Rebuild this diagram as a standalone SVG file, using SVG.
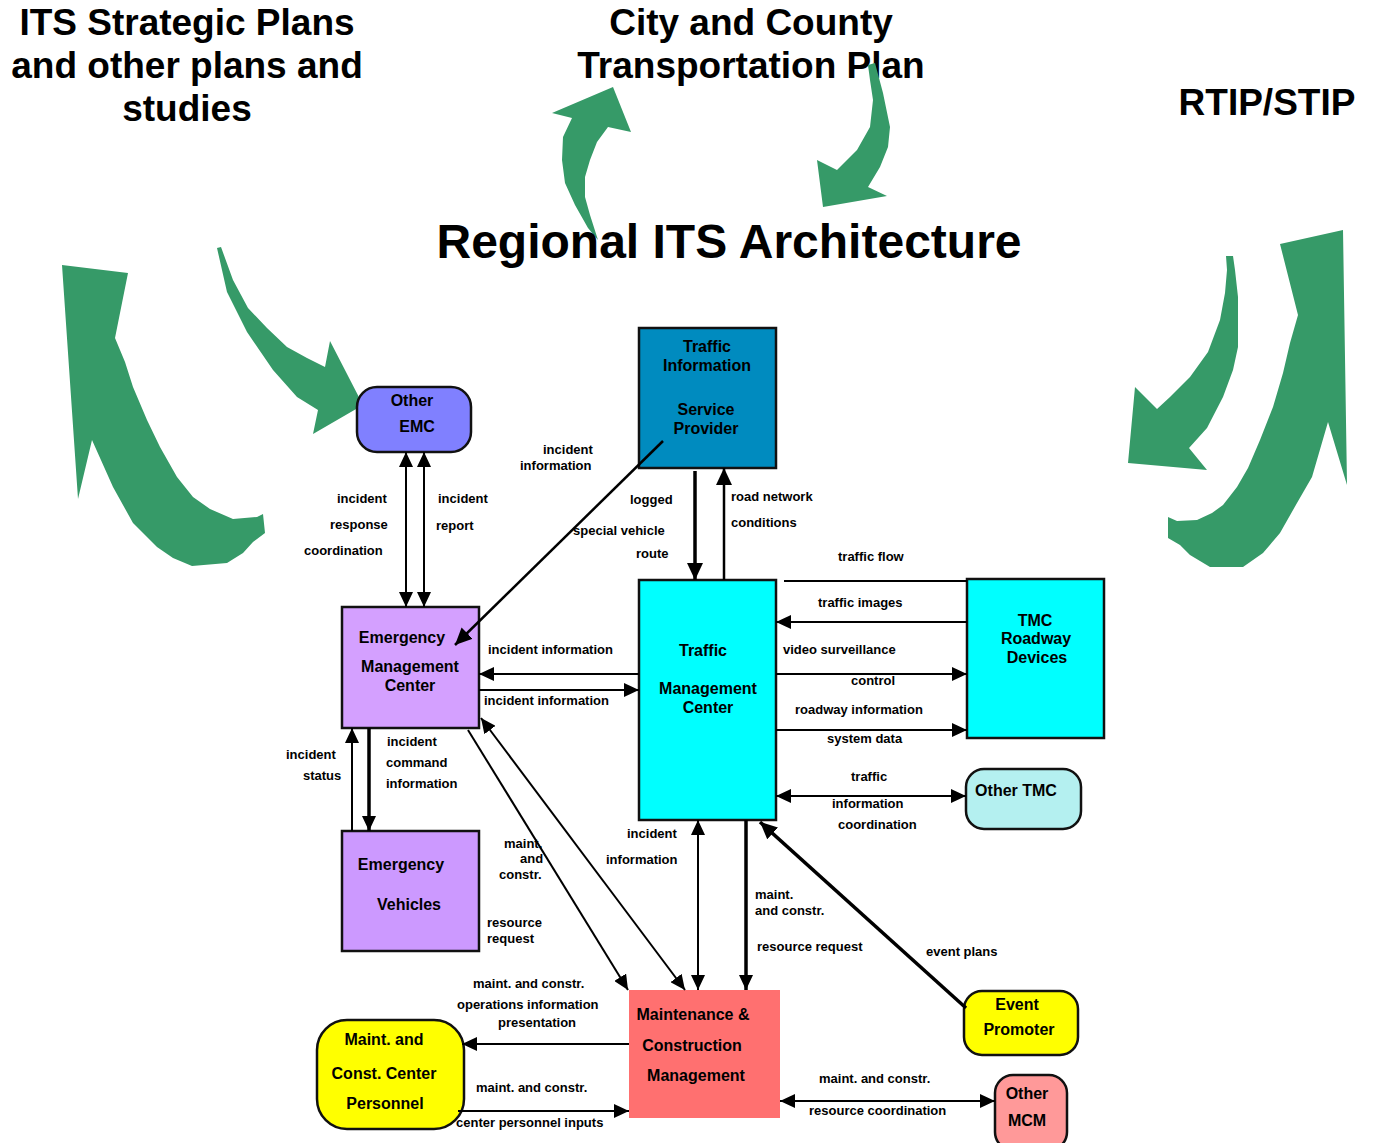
<svg xmlns="http://www.w3.org/2000/svg" width="1373" height="1143" viewBox="0 0 1373 1143">
<style>
text{font-family:"Liberation Sans",Arial,sans-serif;font-weight:bold;fill:#000}
.t{font-size:37px}
.big{font-size:48px}
.n{font-size:16px;text-anchor:middle}
.l{font-size:13px}
.box{stroke:#111;stroke-width:2.5}
.c{stroke:#000;stroke-width:2;fill:none}
.k{stroke:#000;stroke-width:3.5;fill:none}
.g{fill:#369a68}
</style>
<defs>
<marker id="a" markerUnits="userSpaceOnUse" markerWidth="15" markerHeight="14" refX="15" refY="7" orient="auto-start-reverse"><path d="M0,0 L15,7 L0,14 z" fill="#000"/></marker>
<marker id="b" markerUnits="userSpaceOnUse" markerWidth="17" markerHeight="16" refX="17" refY="8" orient="auto-start-reverse"><path d="M0,0 L17,8 L0,16 z" fill="#000"/></marker>
</defs>
<g id="titles">
<text class="t" x="187" y="35" text-anchor="middle">ITS Strategic Plans</text>
<text class="t" x="187" y="78" text-anchor="middle">and other plans and</text>
<text class="t" x="187" y="121" text-anchor="middle">studies</text>
<text class="t" x="751" y="35" text-anchor="middle">City and County</text>
<text class="t" x="751" y="78" text-anchor="middle">Transportation Plan</text>
<text class="t" x="1267" y="115" text-anchor="middle">RTIP/STIP</text>
</g>
<g id="green-arrows">
<polygon class="g" points="62,265 128,273 115,338 125,362 133,387 147,420 160,447 177,477 193,497 210,509 233,519 257,517 263,514 265,533 253,542 243,553 227,563 192,566 173,558 157,547 133,523 113,487 92,440 78,499"/>
<polygon class="g" points="217,248 221,247 233,280 248,308 267,328 287,347 307,358 325,367 330,341 363,405 313,434 318,410 297,397 273,370 247,332 227,292"/>
<polygon class="g" points="613,87 631,132 608,127 597,142 590,160 585,177 585,197 590,215 598,240 588,228 575,205 565,183 562,160 563,137 572,118 552,113"/>
<polygon class="g" points="868,65 875,63 883,93 890,127 888,147 880,167 868,187 887,196 823,207 817,160 837,170 857,150 870,127 873,100 870,80"/>
<polygon class="g" points="1226,256 1233,256 1235,270 1238,297 1238,347 1233,370 1223,397 1207,428 1189,448 1207,470 1128,463 1135,387 1157,409 1170,397 1190,377 1208,352 1220,320 1225,293 1227,270"/>
<polygon class="g" points="1343,230 1347,485 1328,422 1312,477 1297,503 1280,533 1263,553 1243,567 1210,567 1190,555 1180,545 1168,538 1168,517 1177,521 1197,520 1212,513 1223,505 1237,487 1248,468 1260,440 1273,407 1283,373 1290,343 1298,315 1280,244"/>
</g>
<text class="big" x="729" y="258" text-anchor="middle">Regional ITS Architecture</text>
<g id="n-other-emc"><rect class="box" x="357" y="387" width="114" height="65" rx="20" fill="#8080ff"/><text class="n" x="412" y="406">Other</text><text class="n" x="417" y="432">EMC</text></g>
<g id="n-tisp"><rect class="box" x="639" y="328" width="137" height="140" fill="#008bbf"/><text class="n" x="707" y="352">Traffic</text><text class="n" x="707" y="371">Information</text><text class="n" x="706" y="415">Service</text><text class="n" x="706" y="434">Provider</text></g>
<g id="n-emc"><rect class="box" x="342" y="607" width="137" height="121" fill="#d4a0ff"/><text class="n" x="402" y="643">Emergency</text><text class="n" x="410" y="672">Management</text><text class="n" x="410" y="691">Center</text></g>
<g id="n-tmc"><rect class="box" x="639" y="580" width="137" height="240" fill="#00ffff"/><text class="n" x="703" y="656">Traffic</text><text class="n" x="708" y="694">Management</text><text class="n" x="708" y="713">Center</text></g>
<g id="n-tmc-rd"><rect class="box" x="967" y="579" width="137" height="159" fill="#00ffff"/><text class="n" x="1035" y="626">TMC</text><text class="n" x="1036" y="644">Roadway</text><text class="n" x="1037" y="663">Devices</text></g>
<g id="n-other-tmc"><rect class="box" x="966" y="769" width="115" height="60" rx="18" fill="#b4f0f0"/><text class="n" x="1016" y="796">Other TMC</text></g>
<g id="n-ev"><rect class="box" x="342" y="831" width="137" height="120" fill="#cc99ff"/><text class="n" x="401" y="870">Emergency</text><text class="n" x="409" y="910">Vehicles</text></g>
<g id="n-mcm"><rect x="629" y="990" width="151" height="128" fill="#ff7070"/><text class="n" x="693" y="1020">Maintenance &amp;</text><text class="n" x="692" y="1051">Construction</text><text class="n" x="696" y="1081">Management</text></g>
<g id="n-personnel"><rect class="box" x="317" y="1020" width="147" height="109" rx="30" fill="#ffff00"/><text class="n" x="384" y="1045">Maint. and</text><text class="n" x="384" y="1079">Const. Center</text><text class="n" x="385" y="1109">Personnel</text></g>
<g id="n-event"><rect class="box" x="964" y="991" width="114" height="64" rx="18" fill="#ffff00"/><text class="n" x="1017" y="1010">Event</text><text class="n" x="1019" y="1035">Promoter</text></g>
<g id="n-other-mcm"><rect class="box" x="995" y="1075" width="72" height="75" rx="18" fill="#ff9999"/><text class="n" x="1027" y="1099">Other</text><text class="n" x="1027" y="1126">MCM</text></g>
<g id="connectors">
<line class="c" x1="406" y1="452" x2="406" y2="607" marker-start="url(#a)" marker-end="url(#a)"/>
<line class="c" x1="424" y1="452" x2="424" y2="607" marker-start="url(#a)" marker-end="url(#a)"/>
<line class="k" style="stroke-width:2.5" x1="663" y1="441" x2="455" y2="645" marker-end="url(#b)"/>
<line class="k" x1="695" y1="471" x2="695" y2="580" marker-end="url(#b)"/>
<line class="c" style="stroke-width:2.5" x1="724" y1="580" x2="724" y2="468" marker-end="url(#b)"/>
<line class="c" x1="967" y1="581" x2="784" y2="581"/>
<line class="c" x1="967" y1="622" x2="776" y2="622" marker-end="url(#a)"/>
<line class="c" x1="776" y1="674" x2="967" y2="674" marker-end="url(#a)"/>
<line class="c" x1="776" y1="730" x2="967" y2="730" marker-end="url(#a)"/>
<line class="c" x1="776" y1="796" x2="966" y2="796" marker-start="url(#a)" marker-end="url(#a)"/>
<line class="c" x1="639" y1="674" x2="479" y2="674" marker-end="url(#a)"/>
<line class="c" x1="479" y1="690" x2="639" y2="690" marker-end="url(#a)"/>
<line class="c" x1="352" y1="831" x2="352" y2="728" marker-end="url(#a)"/>
<line class="k" x1="369" y1="728" x2="369" y2="831" marker-end="url(#a)"/>
<line class="c" x1="468" y1="730" x2="628" y2="990" marker-end="url(#a)"/>
<line class="c" x1="685" y1="990" x2="481" y2="718" marker-start="url(#a)" marker-end="url(#a)"/>
<line class="c" x1="698" y1="820" x2="698" y2="990" marker-start="url(#a)" marker-end="url(#a)"/>
<line class="k" x1="746" y1="820" x2="746" y2="990" marker-end="url(#a)"/>
<line class="k" x1="966" y1="1008" x2="760" y2="822" marker-end="url(#b)"/>
<line class="c" x1="629" y1="1044" x2="462" y2="1044" marker-end="url(#a)"/>
<line class="c" x1="458" y1="1111" x2="629" y2="1111" marker-end="url(#a)"/>
<line class="c" x1="780" y1="1101" x2="995" y2="1101" marker-start="url(#a)" marker-end="url(#a)"/>
</g>
<g id="labels">
<text class="l" x="337" y="503">incident</text><text class="l" x="330" y="529">response</text><text class="l" x="304" y="555">coordination</text>
<text class="l" x="438" y="503">incident</text><text class="l" x="436" y="530">report</text>
<text class="l" x="543" y="454">incident</text><text class="l" x="520" y="470">information</text>
<text class="l" x="630" y="504">logged</text><text class="l" x="573" y="535">special vehicle</text><text class="l" x="636" y="558">route</text>
<text class="l" x="731" y="501">road network</text><text class="l" x="731" y="527">conditions</text>
<text class="l" x="838" y="561">traffic flow</text>
<text class="l" x="818" y="607">traffic images</text>
<text class="l" x="783" y="654">video surveillance</text><text class="l" x="851" y="685">control</text>
<text class="l" x="795" y="714">roadway information</text><text class="l" x="827" y="743">system data</text>
<text class="l" x="851" y="781">traffic</text><text class="l" x="832" y="808">information</text><text class="l" x="838" y="829">coordination</text>
<text class="l" x="488" y="654">incident information</text><text class="l" x="484" y="705">incident information</text>
<text class="l" x="286" y="759">incident</text><text class="l" x="303" y="780">status</text>
<text class="l" x="387" y="746">incident</text><text class="l" x="386" y="767">command</text><text class="l" x="386" y="788">information</text>
<text class="l" x="504" y="848">maint.</text><text class="l" x="520" y="863">and</text><text class="l" x="499" y="879">constr.</text>
<text class="l" x="487" y="927">resource</text><text class="l" x="487" y="943">request</text>
<text class="l" x="627" y="838">incident</text><text class="l" x="606" y="864">information</text>
<text class="l" x="755" y="899">maint.</text><text class="l" x="755" y="915">and constr.</text><text class="l" x="757" y="951">resource request</text>
<text class="l" x="926" y="956">event plans</text>
<text class="l" x="473" y="988">maint. and constr.</text><text class="l" x="457" y="1009">operations information</text><text class="l" x="498" y="1027">presentation</text>
<text class="l" x="476" y="1092">maint. and constr.</text><text class="l" x="456" y="1127">center personnel inputs</text>
<text class="l" x="819" y="1083">maint. and constr.</text><text class="l" x="809" y="1115">resource coordination</text>
</g>
</svg>
